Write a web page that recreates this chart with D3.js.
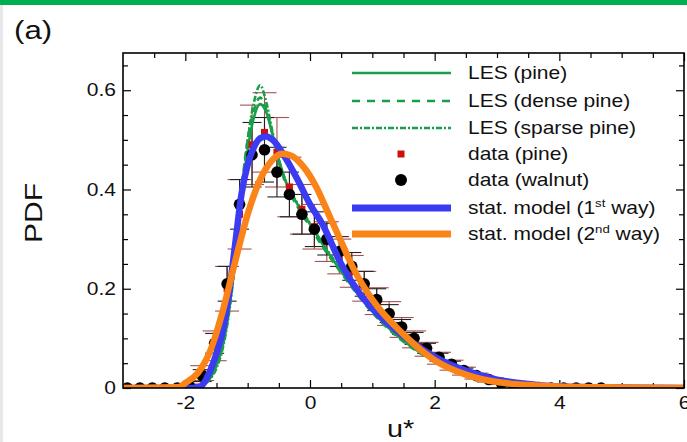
<!DOCTYPE html>
<html>
<head>
<meta charset="utf-8">
<script src="https://cdn.jsdelivr.net/npm/d3@7"></script>
<style>
  body { margin: 0; background: #fff; }
  svg { display: block; font-family: "Liberation Sans", Arial, sans-serif; }
</style>
</head>
<body>
<div id="chart-container"></div>
<script>
// stat. model curves
const blueX = [-3, -1.9, -1.76, -1.6, -1.5, -1.4, -1.3, -1.2, -1.1, -1.0, -0.9, -0.8, -0.7, -0.6, -0.4, -0.2, 0, 0.2, 0.5, 0.8, 1.0, 1.5, 2, 2.5, 3, 3.5, 4, 5, 6];
const blueY = [0, 0, 0.003, 0.035, 0.07, 0.115, 0.19, 0.29, 0.39, 0.45, 0.485, 0.503, 0.507, 0.5, 0.465, 0.42, 0.37, 0.33, 0.25, 0.19, 0.16, 0.105, 0.063, 0.035, 0.017, 0.008, 0.003, 0.001, 0];
const orangeX = [-3, -2.1, -2.0, -1.8, -1.6, -1.4, -1.2, -1.0, -0.8, -0.6, -0.45, -0.3, -0.1, 0.1, 0.3, 0.5, 0.7, 1.0, 1.5, 2.0, 2.5, 3.0, 3.5, 4, 5, 6];
const orangeY = [0, 0.002, 0.01, 0.03, 0.075, 0.155, 0.255, 0.35, 0.42, 0.46, 0.472, 0.468, 0.445, 0.405, 0.35, 0.295, 0.24, 0.178, 0.108, 0.056, 0.027, 0.012, 0.006, 0.003, 0.001, 0];

// LES curves
const lesX = [-3, -1.9, -1.8, -1.6, -1.5, -1.4, -1.3, -1.2, -1.1, -1.0, -0.9, -0.8, -0.7, -0.6, -0.5, -0.4, -0.2, 0, 0.2, 0.5, 0.8, 1.0, 1.5, 2, 2.5, 3, 3.5, 4, 5, 6];
const lesPineY = [0, 0, 0.002, 0.02, 0.045, 0.085, 0.155, 0.26, 0.38, 0.48, 0.545, 0.572, 0.555, 0.51, 0.46, 0.42, 0.37, 0.33, 0.29, 0.235, 0.185, 0.155, 0.095, 0.055, 0.03, 0.015, 0.007, 0.003, 0.0005, 0];
const lesDenseY = [0, 0, 0.003, 0.025, 0.05, 0.09, 0.165, 0.275, 0.4, 0.5, 0.56, 0.585, 0.56, 0.51, 0.455, 0.415, 0.365, 0.325, 0.285, 0.232, 0.182, 0.152, 0.093, 0.054, 0.029, 0.014, 0.007, 0.003, 0.0005, 0];
const lesSparseY = [0, 0, 0.002, 0.018, 0.04, 0.08, 0.15, 0.255, 0.385, 0.5, 0.575, 0.61, 0.575, 0.515, 0.46, 0.42, 0.372, 0.332, 0.292, 0.238, 0.187, 0.157, 0.097, 0.056, 0.03, 0.015, 0.007, 0.003, 0.0005, 0];

// measured data
const walnutX = [-2.93, -2.73, -2.53, -2.33, -2.13, -1.93, -1.73, -1.53, -1.33, -1.13, -0.93, -0.73, -0.53, -0.33, -0.13, 0.07, 0.27, 0.47, 0.67, 0.87, 1.07, 1.27, 1.47, 1.67, 1.87, 2.07, 2.27, 2.47, 2.67, 2.87, 3.07, 3.27, 3.47, 3.67, 3.87, 4.07, 4.27, 4.47, 4.67];
const walnutY = [0, 0, 0, 0, 0, 0.003, 0.025, 0.09, 0.21, 0.37, 0.47, 0.48, 0.435, 0.39, 0.35, 0.32, 0.3, 0.275, 0.245, 0.21, 0.178, 0.15, 0.123, 0.1, 0.08, 0.062, 0.048, 0.035, 0.025, 0.017, 0.01, 0.004, 0.002, 0.001, 0, 0, 0, 0, 0];
const walnutErr = [0, 0, 0, 0, 0, 0.003, 0.012, 0.02, 0.035, 0.05, 0.065, 0.065, 0.05, 0.045, 0.04, 0.035, 0.032, 0.03, 0.028, 0.025, 0.022, 0.018, 0.015, 0.012, 0.01, 0.008, 0.006, 0.005, 0.004, 0.003, 0.002, 0.001, 0, 0, 0, 0, 0, 0, 0];
const pineX = [-1.93, -1.73, -1.53, -1.33, -1.13, -0.93, -0.73, -0.53, -0.33, -0.13, 0.07, 0.27, 0.47, 0.67, 0.87, 1.07, 1.27, 1.47, 1.67, 1.87, 2.07, 2.27, 2.47, 2.67, 2.87, 3.07];
const pineY = [0.004, 0.03, 0.085, 0.2, 0.35, 0.49, 0.515, 0.475, 0.405, 0.36, 0.325, 0.295, 0.265, 0.235, 0.205, 0.175, 0.15, 0.122, 0.098, 0.078, 0.06, 0.046, 0.034, 0.024, 0.016, 0.01];
const pineErr = [0.004, 0.015, 0.03, 0.045, 0.07, 0.08, 0.08, 0.07, 0.06, 0.05, 0.045, 0.04, 0.035, 0.032, 0.03, 0.027, 0.024, 0.02, 0.017, 0.014, 0.012, 0.01, 0.008, 0.006, 0.004, 0.003];

// axes
const xMajor = [-2, 0, 2, 4, 6];
const xMinor = [-2.5, -1.5, -1, -0.5, 0.5, 1, 1.5, 2.5, 3, 3.5, 4.5, 5, 5.5];
const yMajor = [0, 0.2, 0.4, 0.6];
const yMinor = [0.05, 0.1, 0.15, 0.25, 0.3, 0.35, 0.45, 0.5, 0.55, 0.65];

const legendLabels = ["LES (pine)", "LES (dense pine)", "LES (sparse pine)", "data (pine)", "data (walnut)", "stat. model (1|st| way)", "stat. model (2|nd| way)"];

const chartWidth = 687, chartHeight = 442;
const frameLeft = 123, frameRight = 684, frameTop = 53, frameBottom = 388;
const green = "#1b9e4b", blue = "#3b3bf2", orange = "#fb8418";
const stretch = 1.2; // the figure's lettering is wider than Arial

const svg = d3.select("#chart-container").append("svg")
  .attr("width", chartWidth).attr("height", chartHeight);

svg.append("rect").attr("x", 0).attr("y", 0).attr("width", chartWidth).attr("height", 5).attr("fill", "#00b050");
svg.append("rect").attr("x", 0).attr("y", 5).attr("width", 3).attr("height", chartHeight - 5).attr("fill", "#e8e8e8");

const x = d3.scaleLinear().domain([-3, 6]).range([frameLeft, frameRight]);
const y = d3.scaleLinear().domain([0, 0.675]).range([frameBottom, frameTop]);

svg.append("clipPath").attr("id", "clip").append("rect")
  .attr("x", frameLeft).attr("y", frameTop).attr("width", frameRight - frameLeft).attr("height", frameBottom - frameTop);

// ticks (inward)
const addAxis = (axis, tx, ty, vals, size, fmt, pad) => {
  const g = svg.append("g").attr("transform", `translate(${tx},${ty})`)
    .call(axis.tickValues(vals).tickSize(-size).tickPadding(pad).tickFormat(fmt));
  g.select(".domain").remove();
  g.selectAll("line").attr("stroke", "#000").attr("stroke-width", 1.2);
  g.selectAll("text").attr("font-size", 17.5).attr("fill", "#111").attr("font-family", "Liberation Sans, Arial, sans-serif");
  return g;
};
const none = () => "";
addAxis(d3.axisBottom(x), 0, frameBottom, xMajor, 8, d => String(d), 9)
  .selectAll("text").attr("transform", `scale(${stretch},1)`);
addAxis(d3.axisBottom(x), 0, frameBottom, xMinor, 5, none, 9);
addAxis(d3.axisTop(x), 0, frameTop, xMajor, 8, none, 3);
addAxis(d3.axisTop(x), 0, frameTop, xMinor, 5, none, 3);
addAxis(d3.axisLeft(y), frameLeft, 0, yMajor, 8, d => d === 0 ? "0" : d3.format(".1f")(d), 7)
  .selectAll("text").attr("x", -7 / stretch).attr("transform", `scale(${stretch},1)`);
addAxis(d3.axisLeft(y), frameLeft, 0, yMinor, 5, none, 7);
addAxis(d3.axisRight(y), frameRight, 0, yMajor, 8, none, 3);
addAxis(d3.axisRight(y), frameRight, 0, yMinor, 5, none, 3);

const plot = svg.append("g").attr("clip-path", "url(#clip)");

// error bars
const errBars = (xs, ys, es, color, capW, sw) => {
  const g = plot.append("g").attr("stroke", color).attr("stroke-width", sw).attr("fill", "none");
  xs.forEach((u, i) => {
    if (es[i] <= 0) return;
    const cx = x(u), y1 = y(ys[i] + es[i]), y2 = y(Math.max(0, ys[i] - es[i]));
    g.append("line").attr("x1", cx).attr("x2", cx).attr("y1", y1).attr("y2", y2);
    g.append("line").attr("x1", cx - capW / 2).attr("x2", cx + capW / 2).attr("y1", y1).attr("y2", y1);
    g.append("line").attr("x1", cx - capW / 2).attr("x2", cx + capW / 2).attr("y1", y2).attr("y2", y2);
  });
};
errBars(pineX, pineY, pineErr, "#a8504c", 24, 1.1);
errBars(walnutX, walnutY, walnutErr, "#222", 19, 1.1);

const line = d3.line().x(d => x(d[0])).y(d => y(d[1])).curve(d3.curveMonotoneX);
const drawLine = (xs, ys, color, w, dash) => {
  plot.append("path").datum(xs.map((u, i) => [u, ys[i]]))
    .attr("d", line).attr("fill", "none").attr("stroke", color)
    .attr("stroke-width", w).attr("stroke-dasharray", dash);
};
drawLine(lesX, lesSparseY, green, 2.6, "6 2 2 2");
drawLine(lesX, lesDenseY, green, 2.6, "7 5");
drawLine(lesX, lesPineY, green, 2.6, null);

plot.append("g").selectAll("rect").data(pineX).enter().append("rect")
  .attr("x", (d) => x(d) - 3.5).attr("y", (d, i) => y(pineY[i]) - 3.5)
  .attr("width", 7).attr("height", 7).attr("fill", "#cc1010");
plot.append("g").selectAll("circle").data(walnutX).enter().append("circle")
  .attr("cx", d => x(d)).attr("cy", (d, i) => y(walnutY[i]))
  .attr("r", 5.8).attr("fill", "#000");

drawLine(blueX, blueY, blue, 6.5, null);
drawLine(orangeX, orangeY, orange, 6.5, null);

// frame
svg.append("rect").attr("x", frameLeft).attr("y", frameTop).attr("width", frameRight - frameLeft).attr("height", frameBottom - frameTop)
  .attr("fill", "none").attr("stroke", "#000").attr("stroke-width", 1.6);

// labels
svg.append("text").attr("transform", `translate(14,39) scale(${stretch},1)`).attr("font-size", 26).attr("fill", "#111").text("(a)");
svg.append("text").attr("transform", `translate(42,213) rotate(-90) scale(1.25,1)`).attr("text-anchor", "middle")
  .attr("font-size", 24).attr("fill", "#111").text("PDF");
svg.append("text").attr("transform", `translate(387,437) scale(${stretch},1)`).attr("font-size", 24).attr("fill", "#111").text("u*");

// legend
const legendY = [73, 101, 128, 154, 180, 208, 234];
const lg = svg.append("g");
const sample = [
  { color: green, w: 2.6, dash: null },
  { color: green, w: 2.6, dash: "8 7" },
  { color: green, w: 2.6, dash: "6 2 2 2" },
  { square: true },
  { dot: true },
  { color: blue, w: 7, dash: null },
  { color: orange, w: 7, dash: null }
];
sample.forEach((s, i) => {
  const yy = legendY[i];
  if (s.square) {
    lg.append("rect").attr("x", 397.5).attr("y", yy - 3.5).attr("width", 7).attr("height", 7).attr("fill", "#cc1010");
  } else if (s.dot) {
    lg.append("circle").attr("cx", 401).attr("cy", yy).attr("r", 6).attr("fill", "#000");
  } else {
    lg.append("line").attr("x1", 352).attr("x2", 451).attr("y1", yy).attr("y2", yy)
      .attr("stroke", s.color).attr("stroke-width", s.w).attr("stroke-dasharray", s.dash);
  }
  const parts = legendLabels[i].split("|");
  const t = lg.append("text").attr("transform", `translate(468,${yy + 6}) scale(${stretch},1)`)
    .attr("font-size", 17.5).attr("fill", "#111");
  t.append("tspan").text(parts[0]);
  if (parts.length > 1) {
    t.append("tspan").attr("font-size", 11).attr("dy", -7).text(parts[1]);
    t.append("tspan").attr("dy", 7).text(parts[2]);
  }
});
</script>
</body>
</html>
